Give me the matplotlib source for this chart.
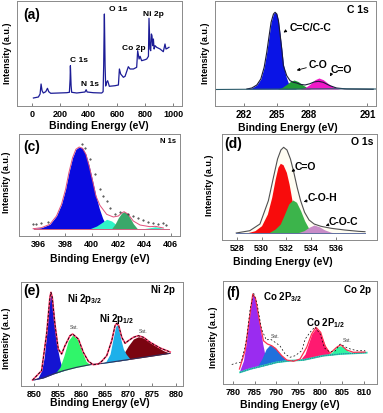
import matplotlib
matplotlib.use("Agg")
import matplotlib.pyplot as plt
import numpy as np

plt.rcParams['font.family'] = ['Liberation Sans', 'DejaVu Sans']
plt.rcParams['mathtext.fontset'] = 'custom'
plt.rcParams['mathtext.rm'] = 'Liberation Sans:bold'
plt.rcParams['mathtext.it'] = 'Liberation Sans:bold'
plt.rcParams['mathtext.bf'] = 'Liberation Sans:bold'

# ---------------- data ----------------
# (a) survey
a_ev = [12, 47, 59, 66, 73, 82, 99, 111, 120, 134, 247, 266, 271, 273, 278, 282, 318, 376, 384, 391,
        435, 494, 504, 508, 511, 513, 518, 522, 529, 536, 548, 588, 612, 619, 628, 647, 659, 682, 694, 718,
        741, 748, 758, 765, 776, 800, 812, 824, 828, 835, 840, 845, 849, 854, 859, 864, 871, 882, 906, 929,
        941, 948, 958, 969]
a_int = [8, 9, 12, 22, 15.3, 13, 14.3, 17.7, 14.3, 12.7, 13.3, 13.7, 27, 40.3, 20.3, 13.7, 13, 14, 16.3, 14,
         13.3, 13, 14.3, 40.3, 73.7, 92, 40, 20, 23.7, 25.3, 19.7, 20.3, 21, 37, 32, 28.7, 29.7, 39.3, 37, 37,
         38.7, 55.3, 47, 49.7, 45.3, 46.3, 47, 49.7, 87.7, 57, 55.3, 72, 70.3, 60.3, 67, 57, 60.3, 58.7, 57, 54.3,
         62, 57, 57.7, 58.7]
a_ticks = [0, 200, 400, 600, 800, 1000]
a_labels = [("C 1s", 332, 47), ("N 1s", 414, 22), ("O 1s", 609, 97.7), ("Co 2p", 720, 59), ("Ni 2p", 856, 92)]

# (b) C 1s
b_base_ev = [279.3, 283, 287, 290, 294.2]
b_base_int = [16.5, 16.8, 17, 17.2, 17]
b_cc_ev = [282.25, 282.71, 283.17, 283.54, 283.85, 284.09, 284.31, 284.49, 284.71, 284.86, 285.02, 285.17,
           285.32, 285.48, 285.63, 285.85, 286.09, 286.40, 286.86]
b_cc_int = [17, 18, 21, 27, 38.7, 53.7, 70.3, 83.7, 92, 93.7, 92, 85.3, 72, 57, 42, 30.3, 23, 18.7, 17]
b_co_ev = [285.08, 285.48, 285.94, 286.25, 286.62, 287.02, 287.42, 287.78, 288.15]
b_co_int = [17, 18.3, 21.7, 24.3, 26, 24.3, 21, 18.7, 17]
b_c2o_ev = [287.17, 287.63, 288.09, 288.55, 288.92, 289.32, 289.78, 290.25, 290.71, 291.32]
b_c2o_int = [17, 18.3, 21.7, 26.3, 28, 26.3, 22.3, 19, 17.3, 16.7]
b_env_ev = [282.25, 282.71, 283.17, 283.54, 283.85, 284.09, 284.31, 284.49, 284.71, 284.86, 285.02, 285.17,
            285.32, 285.48, 285.63, 285.94, 286.25, 286.55, 286.86, 287.17, 287.63, 288.09, 288.46, 288.86,
            289.32, 289.94, 290.55, 291.48, 293.94]
b_env_int = [17, 18, 21, 27, 38.7, 53.7, 70.3, 83.7, 92, 93.7, 92, 85.3, 72, 57, 40.3, 30.3, 25.3, 23.7, 23,
             21.7, 21, 22.3, 24, 24.7, 23.7, 20.3, 18, 17, 16.7]
b_tick_pos = [282, 285, 288, 293.4]
b_tick_lab = ["282", "285", "288", "291"]

# (c) N 1s
c_base = 7.0
c_main_ev = [395.57, 396.2, 396.84, 397.34, 397.72, 398.03, 398.28, 398.56, 398.81, 399.06, 399.32, 399.57,
             399.82, 400.08, 400.33, 400.58, 400.84, 401.09, 401.39]
c_main_int = [7.3, 8.3, 11.7, 20, 31.7, 46.7, 63.3, 78.3, 86.7, 89, 87.7, 81.7, 70, 55, 40, 27.7, 17.7, 11, 7.3]
c_cy1_ev = [399.87, 400.38, 400.76, 401.14, 401.52, 401.9, 402.28]
c_cy1_int = [7.3, 10, 13.3, 16.7, 15, 11, 7.3]
c_gr_ev = [401.52, 401.77, 402.03, 402.28, 402.46, 402.66, 402.91, 403.16, 403.47]
c_gr_int = [7.3, 11.7, 18.3, 23, 24.3, 23, 18.3, 12.3, 7.3]
c_cy2_ev = [403.92, 404.43, 404.81, 405.19, 405.57]
c_cy2_int = [7.3, 8.3, 9.3, 8.3, 7.3]
c_env_ev = [395.57, 396.2, 396.84, 397.34, 397.72, 398.03, 398.28, 398.56, 398.81, 399.06, 399.32, 399.57,
            399.82, 400.08, 400.33, 400.63, 401.14, 401.65, 402.03, 402.28, 402.46, 402.78, 403.16, 403.67,
            404.43, 404.81, 405.44]
c_env_int = [7.3, 8.3, 11.7, 20, 31.7, 46.7, 63.3, 78.3, 86.7, 89, 87.7, 81.7, 70, 55, 40, 30.7, 21.7, 19,
             20, 23, 24.3, 21.7, 15, 11, 9.3, 9.7, 8]
c_raw_ev = [395.57, 395.82, 396.2, 396.71, 399.24, 399.49, 399.87, 400.25, 400.63, 400.89, 401.14, 401.39,
            401.77, 402.15, 402.78, 403.16, 403.54, 403.92, 404.3, 404.68, 405.06, 405.44, 405.65]
c_raw_int = [12.3, 11.7, 13.3, 14.3, 91.7, 88.3, 76.7, 61.7, 46.7, 40, 35, 28.3, 22.3, 24.3, 21.7, 20, 18.3,
             15.7, 14.3, 13.3, 11.7, 13.3, 11]
c_ticks = [396, 398, 400, 402, 404, 406]

# (d) O 1s
d_base = 7.0
d_env_ev = [527.95, 529.04, 529.86, 530.54, 530.95, 531.28, 531.55, 531.77, 532.04, 532.32, 532.59, 532.86,
            533.14, 533.46, 533.82, 534.23, 534.78, 535.6, 536.69, 537.78, 538.33]
d_env_int = [7, 9.3, 16, 39.3, 62.7, 81, 90, 92.7, 90, 81, 67.7, 52.7, 39.3, 27.7, 20, 16, 13.7, 11.7, 10,
             8.7, 8.3]
d_red_ev = [528.77, 529.45, 529.99, 530.46, 530.81, 531.09, 531.31, 531.5, 531.72, 531.99, 532.21, 532.45,
            532.73, 533.0, 533.27, 533.68]
d_red_int = [7, 9.3, 14.3, 26, 42.7, 61, 72.7, 76.7, 75.3, 67.7, 56, 39.3, 26, 16.7, 11, 7.7]
d_grn_ev = [530.54, 531.09, 531.5, 531.85, 532.18, 532.51, 532.81, 533.14, 533.46, 533.82, 534.17]
d_grn_int = [7, 11, 16, 26, 36, 40, 37.7, 29.3, 19.3, 11, 7]
d_pur_ev = [532.86, 533.41, 533.82, 534.23, 534.64, 535.05, 535.6, 536.0]
d_pur_int = [7, 9.3, 12.7, 15, 13.3, 10.3, 7.7, 7]
d_ticks = [528, 530, 532, 534, 536]

# (e) Ni 2p
e_base_ev = [849.79, 851.91, 854.03, 856.15, 858.98, 861.81, 864.64, 867.47, 871.0, 874.54, 878.78]
e_base_int = [6, 8, 12, 15.3, 18.7, 21.3, 22.7, 24.7, 27.2, 29.7, 32.7]
e_p32_ev = [849.79, 850.85, 851.56, 852.12, 852.62, 853.04, 853.32, 853.54, 853.82, 854.17, 854.6, 855.02,
            855.45, 856.01, 856.86]
e_p32_int = [6, 8.7, 15.3, 28.7, 52, 75.3, 88.7, 92, 88.7, 72, 52, 35.3, 25.3, 17, 15.7]
e_s1_ev = [854.38, 855.45, 856.29, 857.21, 858.13, 859.12, 860.04, 860.96, 861.81]
e_s1_int = [12.3, 18.7, 30.3, 45.3, 51, 47, 35.3, 24.7, 21.3]
e_p12_ev = [864.29, 865.21, 866.05, 866.76, 867.19, 867.47, 867.82, 868.32, 868.88, 869.45, 870.3]
e_p12_int = [22.5, 24.7, 32, 48.7, 58.7, 61.3, 58.7, 47, 37, 32, 27]
e_s2_ev = [866.05, 867.47, 868.88, 869.94, 871.0, 872.06, 873.13, 874.54, 875.95, 877.37, 878.78]
e_s2_int = [23.5, 24.7, 32, 40.3, 47, 49.3, 48, 43.7, 39.3, 35.3, 32.7]
e_env_ev = [849.65, 851.56, 852.62, 853.32, 853.54, 853.82, 854.38, 855.09, 855.8, 856.51, 857.57, 858.13,
            859.34, 860.4, 861.46, 862.52, 863.58, 864.29, 865.35, 866.41, 867.11, 867.47, 867.89, 868.53,
            869.24, 869.94, 871.0, 872.06, 873.13, 874.54, 876.66, 878.78]
e_env_int = [6, 15.3, 52, 88.7, 93.7, 88.7, 62, 37, 32, 40.3, 50.3, 52, 47, 33.7, 24.7, 21.3, 22, 24.7, 30.3,
             45.3, 60.3, 62.7, 60.3, 48.7, 42.7, 45.3, 48.7, 50.3, 48.7, 43.7, 38, 34]
e_ticks = [850, 855, 860, 865, 870, 875, 880]

# (f) Co 2p
f_base_ev = [781.71, 784.0, 787.04, 790.08, 793.13, 796.17, 800.74, 804.54, 810.63]
f_base_int = [11.7, 15, 18.3, 21.7, 23.3, 24, 28.3, 30, 31.3]
f_p32_ev = [781.56, 782.47, 783.08, 783.61, 784.15, 784.6, 785.14, 785.67, 786.28, 786.89, 787.42, 787.95,
            788.94]
f_p32_int = [12.7, 23.3, 40, 60, 80, 89.3, 85, 73.3, 56.7, 40, 28.3, 20, 19.8]
f_s1_ev = [785.52, 786.66, 787.65, 788.56, 789.7, 790.84, 791.99, 793.13]
f_s1_int = [16.6, 25, 35, 39.3, 36.7, 30, 25, 23.3]
f_p12_ev = [795.41, 796.55, 797.31, 798.07, 799.06, 799.98, 800.74, 801.5, 802.26, 803.02]
f_p12_int = [24, 30, 40, 50, 56, 51.7, 43.3, 35, 30, 29.5]
f_s2_ev = [801.5, 802.64, 803.78, 804.54, 805.45, 806.45, 807.59]
f_s2_int = [29, 31.7, 36.7, 38.3, 36.7, 32.7, 30.7]
f_env_ev = [781.56, 782.85, 783.99, 784.6, 785.21, 786.13, 787.04, 787.95, 788.94, 789.93, 791.23, 792.37,
            793.89, 795.41, 796.93, 798.07, 799.06, 800.12, 801.1, 802.26, 803.78, 804.7, 806.07, 807.59, 810.25]
f_env_int = [15, 33.3, 70, 90, 86, 63.3, 43.3, 40, 38.3, 35, 28.3, 24, 22.7, 25, 36.7, 50, 56.7, 51.7, 38.3,
             30.7, 36.7, 39.3, 34, 31.7, 32]
f_raw_ev = [779.8, 780.9, 782.0, 783.2, 784.0, 784.8, 785.6, 786.6, 787.7, 788.6, 789.7, 790.8, 792.0, 793.1,
            794.3, 795.8, 796.6, 797.7, 798.8, 800.0, 801.0, 802.2, 803.4, 804.6, 805.8, 806.9, 808.4, 810.3]
f_raw_int = [19.5, 21, 22, 45, 75, 91, 80, 55, 44, 45, 41.7, 38.3, 30, 26.7, 28.3, 33.3, 45, 51.7, 57, 50, 36,
             32, 33, 40, 37, 35, 33.3, 33.3]
f_ticks = [780, 785, 790, 795, 800, 805, 810]

# ---------------- layout helpers ----------------
W, H = 383, 414
fig = plt.figure(figsize=(W / 100, H / 100), dpi=100)
fig.patch.set_facecolor('white')


def rect(l, t, r, b):
    return [l / W, 1 - b / H, (r - l) / W, (b - t) / H]


def ftxt(x, y, s, size=6, weight='bold', ha='center', color='black', rot=0):
    fig.text(x / W, 1 - y / H, s, ha=ha, va='center', fontsize=size, fontweight=weight,
             color=color, rotation=rot)


def arrow(tx, ty, hx, hy):
    fig.add_artist(matplotlib.patches.FancyArrowPatch(
        (tx / W, 1 - ty / H), (hx / W, 1 - hy / H), transform=fig.transFigure,
        arrowstyle='-|>', mutation_scale=4, lw=0.6, color='black'))


def style(ax, xlim, ylim, ticks, labels=None, tsize=6.5):
    ax.set_xlim(*xlim)
    ax.set_ylim(*ylim)
    ax.set_xticks(ticks)
    if labels is not None:
        ax.set_xticklabels(labels)
    ax.set_yticks([])
    ax.tick_params(axis='x', direction='in', length=2, width=0.6, pad=2.5, labelsize=tsize,
                   colors='#666666', labelcolor='black')
    for lab in ax.get_xticklabels():
        lab.set_fontweight('bold')
    for sp in ax.spines.values():
        sp.set_color('#8a8a8a')
        sp.set_linewidth(0.7)


def labels_xy(ylx, yly, xlx, xly, ysize=6.5, xsize=7.5):
    ftxt(ylx, yly, "Intensity (a.u.)", size=ysize, rot=90)
    ftxt(xlx, xly, "Binding Energy (eV)", size=xsize)


# ---------------- (a) ----------------
ax = fig.add_axes(rect(17, 2, 182, 107))
ax.plot(a_ev, a_int, color='#1c1c96', lw=0.9)
style(ax, (-104, 1061), (0, 105), a_ticks, tsize=6.5)
for s, x, y in a_labels:
    ax.text(x, y, s, ha='center', va='center', fontsize=6, fontweight='bold')
ftxt(32, 15, "(a)", size=10)
labels_xy(8, 53, 99, 126)

# ---------------- (b) ----------------
ax = fig.add_axes(rect(215, 2, 376, 107))
ax.fill_between(b_cc_ev, b_cc_int, 17, color='#0a14e6', lw=0)
ax.fill_between(b_co_ev, b_co_int, 17, color='#1f9a35', lw=0)
ax.fill_between(b_c2o_ev, b_c2o_int, 17, color='#f018c8', lw=0)
ax.plot(b_env_ev, b_env_int, color='#1a1a3a', lw=0.8)
ax.plot(b_base_ev, b_base_int, color='#2a5a6a', lw=0.8)
style(ax, (279.3, 294.2), (0, 105), b_tick_pos, b_tick_lab, tsize=7)
ftxt(358, 10, "C 1s", size=7.5)
ftxt(310, 28, "C=C/C-C", size=7.5)
arrow(288, 30.5, 283.5, 33.5)
ftxt(318, 65, "C-O", size=7.5)
arrow(309, 68, 294, 72)
ftxt(341, 70, "C=O", size=7.5)
arrow(332, 73.5, 329, 80)
labels_xy(205, 53, 288, 128)

# ---------------- (c) ----------------
ax = fig.add_axes(rect(19, 135, 180, 237))
ax.fill_between(c_main_ev, c_main_int, c_base, color='#0808e0', lw=0)
ax.fill_between(c_cy1_ev, c_cy1_int, c_base, color='#30f5c8', lw=0)
ax.fill_between(c_gr_ev, c_gr_int, c_base, color='#3aa86a', lw=0)
ax.fill_between(c_cy2_ev, c_cy2_int, c_base, color='#30f5c8', lw=0)
ax.plot(c_env_ev, c_env_int, color='#e0507a', lw=0.7)
ax.plot([395.6, 405.9], [c_base, c_base], color='#d06080', lw=0.7)
ax.plot(c_raw_ev, c_raw_int, ls='none', marker='.', ms=0.9, color='#222222')
style(ax, (394.5, 406.7), (0, 102), c_ticks)
ftxt(32, 147, "(c)", size=10)
ftxt(168, 142, "N 1s", size=5.5)
labels_xy(7, 182, 100, 259)

# ---------------- (d) ----------------
ax = fig.add_axes(rect(222, 135, 377, 241))
ax.fill_between(d_env_ev, d_env_int, d_base, color='#fffdf2', lw=0)
ax.fill_between(d_red_ev, d_red_int, d_base, color='#f80c0c', lw=0)
ax.fill_between(d_grn_ev, d_grn_int, d_base, color='#3cb44b', lw=0)
ax.fill_between(d_pur_ev, d_pur_int, d_base, color='#c88cc8', lw=0)
ax.plot(d_env_ev, d_env_int, color='#505050', lw=0.8)
ax.plot([527.9, 538.3], [d_base, d_base], color='#6070a0', lw=0.7)
style(ax, (526.8, 539.3), (0, 106), d_ticks)
ftxt(233, 144, "(d)", size=10)
ftxt(362, 142, "O 1s", size=7.5)
ftxt(305, 166.7, "C=O", size=7.5)
arrow(296, 170, 289, 174)
ftxt(322, 198.3, "C-O-H", size=7.5)
arrow(310, 201, 301, 203.5)
ftxt(343, 222.3, "C-O-C", size=7.5)
arrow(331, 225, 323, 227.5)
labels_xy(210, 185, 283, 262)

# ---------------- (e) ----------------
ax = fig.add_axes(rect(21, 283, 183, 387))
bi = lambda xs: np.interp(xs, e_base_ev, e_base_int)
ax.fill_between(e_p32_ev, e_p32_int, bi(e_p32_ev), color='#1414d2', lw=0)
ax.fill_between(e_s1_ev, e_s1_int, bi(e_s1_ev), color='#30f56a', lw=0)
ax.fill_between(e_s2_ev, e_s2_int, bi(e_s2_ev), color='#7a0410', lw=0)
ax.fill_between(e_p12_ev, e_p12_int, bi(e_p12_ev), color='#1eb0ea', lw=0)
ax.plot(e_base_ev, e_base_int, color='#30305a', lw=0.8)
ax.plot(e_env_ev, e_env_int, color='#ff4070', lw=1.2)
ax.plot(e_env_ev, e_env_int, color='black', lw=0.6, ls=(0, (3, 2)))
style(ax, (847.2, 881.5), (0, 104), e_ticks)
ftxt(32, 291, "(e)", size=10)
ftxt(163, 290, "Ni 2p", size=7)
ftxt(67, 299, r"Ni 2p$_{3/2}$", size=7, ha='left')
ftxt(74, 328, "Sat.", size=3.5, weight='normal', color='#444444')
ftxt(99, 319, r"Ni 2p$_{1/2}$", size=7, ha='left')
ftxt(143, 332, "Sat.", size=3.5, weight='normal', color='#444444')
labels_xy(7, 338, 100, 403)

# ---------------- (f) ----------------
ax = fig.add_axes(rect(223, 282, 377, 385))
bf = lambda xs: np.interp(xs, f_base_ev, f_base_int)
ax.fill_between(f_p32_ev, f_p32_int, bf(f_p32_ev), color='#9a2cf0', lw=0)
ax.fill_between(f_s1_ev, f_s1_int, bf(f_s1_ev), color='#2070dc', lw=0)
ax.fill_between(f_p12_ev, f_p12_int, bf(f_p12_ev), color='#ff1a70', lw=0)
ax.fill_between(f_s2_ev, f_s2_int, bf(f_s2_ev), color='#30f5a0', lw=0)
ax.plot(f_base_ev, f_base_int, color='#30d8b0', lw=1.3)
ax.plot(f_base_ev, f_base_int, color='#203090', lw=0.5, ls=':')
ax.plot(f_env_ev, f_env_int, color='#ff3050', lw=0.9)
ax.plot(f_raw_ev, f_raw_int, color='black', lw=0.5, ls=(0, (2.5, 3)))
style(ax, (777.8, 813), (0, 103), f_ticks)
ftxt(233, 293, "(f)", size=10)
ftxt(357, 290, "Co 2p", size=7)
ftxt(263, 297, r"Co 2P$_{3/2}$", size=7, ha='left')
ftxt(275, 337, "Sat.", size=3.5, weight='normal', color='#444444')
ftxt(306, 323, r"Co 2P$_{1/2}$", size=7, ha='left')
ftxt(347, 341, "Sat.", size=3.5, weight='normal', color='#444444')
labels_xy(214, 337, 290, 405)

fig.savefig("out.png", dpi=100, facecolor='white')
